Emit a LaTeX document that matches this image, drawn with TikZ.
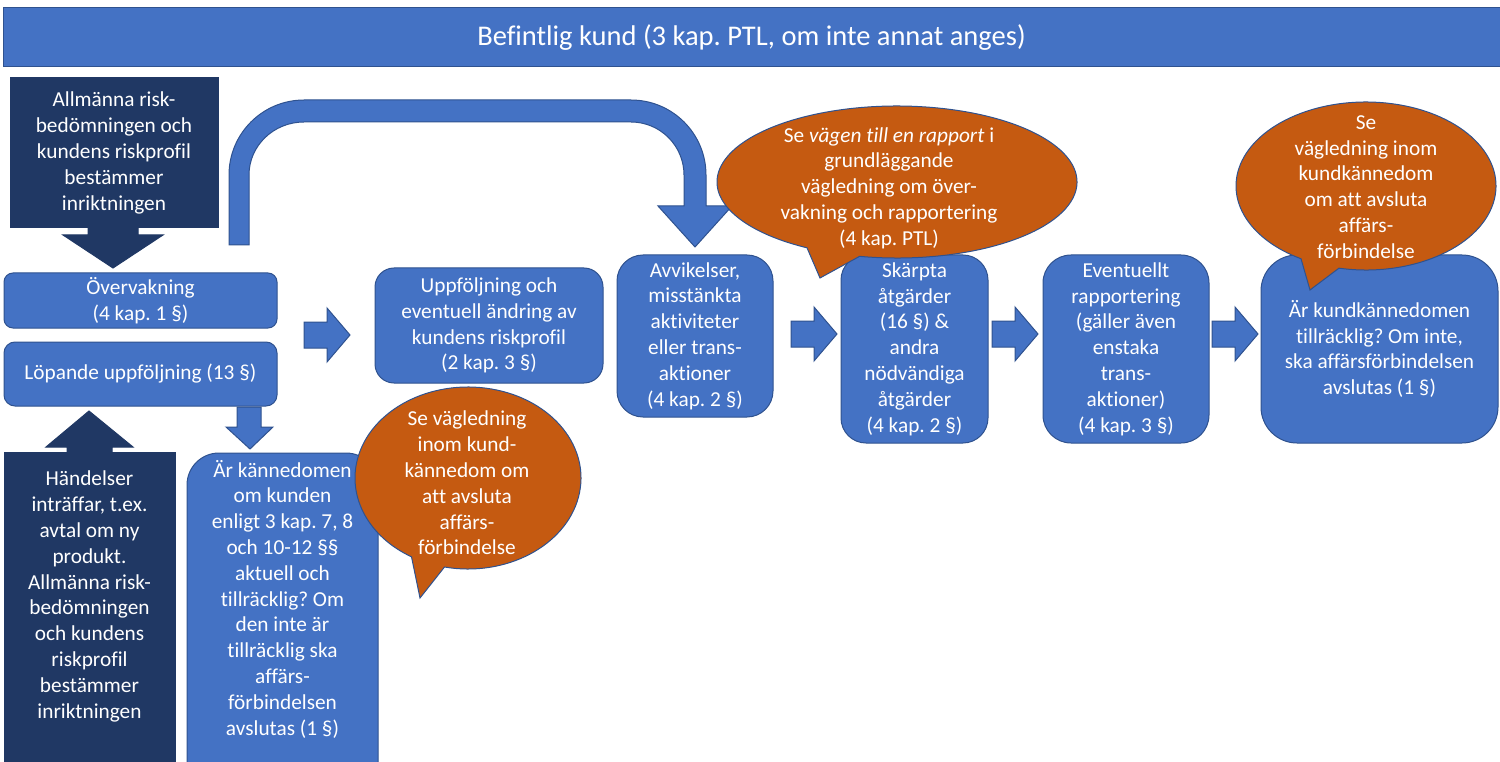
\documentclass[tikz,border=0pt]{standalone}
\usepackage{fontspec}
\setmainfont[Ligatures={NoCommon}]{Carlito}
\frenchspacing
\definecolor{blueF}{HTML}{4472C4}
\definecolor{bord}{HTML}{2F528F}
\definecolor{navy}{HTML}{203864}
\definecolor{orng}{HTML}{C55A11}
\newcommand\txtsz{\fontsize{21.3}{25.8}\selectfont}
\newcommand\titsz{\fontsize{28.5}{34}\selectfont}
\newcommand\rarr[2]{\draw[blk] ({#1},{#2-13}) -- ({#1+23},{#2-13}) -- ({#1+23},{#2-27}) -- ({#1+46},{#2}) -- ({#1+23},{#2+27}) -- ({#1+23},{#2+13}) -- ({#1},{#2+13}) -- cycle;}
\newcommand\bubble[8]{\draw[bub] ({#1+#3*cos(#5)},{#2+#4*sin(#5)}) -- (#7,#8) -- ({#1+#3*cos(#6)},{#2+#4*sin(#6)}) arc[start angle=#6, end angle={#5-360}, x radius=#3, y radius=#4] -- cycle;}
\begin{document}
\begin{tikzpicture}[x=1pt,y=-1pt,
  bx/.style={draw=bord, fill=blueF, line width=1pt, text=white, align=center, inner sep=0pt, font=\txtsz},
  dk/.style={draw=navy, fill=navy, line width=1pt, text=white, align=center, inner sep=0pt, font=\txtsz},
  tx/.style={text=white, align=center, inner sep=0pt, font=\txtsz},
  blk/.style={fill=blueF, draw=bord, line width=1pt, line join=miter},
  dkblk/.style={fill=navy, draw=navy, line width=1pt},
  bub/.style={fill=orng, draw=bord, line width=1pt}]
\useasboundingbox (0,0) rectangle (1500,762);
% title
\node[bx, font=\titsz, minimum width=1497pt, minimum height=59pt] (title) at (751.5,37.5) {Befintlig kund (3 kap. PTL, om inte annat anges)};
% top dark box and arrow
\node[dk, minimum width=208pt, minimum height=150pt] (top) at (114,153) {Allmänna risk-\\bedömningen och\\kundens riskprofil\\bestämmer\\inriktningen};
\draw[dkblk] (88,227) -- (138,227) -- (138,235) -- (163,235) -- (113,268) -- (63,235) -- (88,235) -- cycle;
% bent arrow
\draw[blk] (229,245) -- (229,175) arc[start angle=180, end angle=270, radius=75] -- (631,100) arc[start angle=270, end angle=360, radius=75] -- (706,206) -- (732,206) -- (695,247) -- (658,206) -- (684,206) -- (684,175) arc[start angle=0, end angle=-90, radius=53] -- (304,122) arc[start angle=-90, end angle=-180, x radius=55, y radius=53] -- (249,245) -- cycle;
% boxes
\node[bx, rounded corners=9pt, minimum width=273pt, minimum height=55pt] (ov) at (140.5,300.5) {Övervakning\\(4 kap. 1 §)};
\node[bx, rounded corners=11pt, minimum width=273pt, minimum height=64pt] (lop) at (140.5,374) {Löpande uppföljning (13 §)};
\node[bx, rounded corners=19pt, minimum width=228pt, minimum height=115pt] (upp) at (489,325.5) {Uppföljning och\\eventuell ändring av\\kundens riskprofil\\(2 kap. 3 §)};
\node[bx, rounded corners=26pt, minimum width=156pt, minimum height=162pt] (avv) at (695,336) {Avvikelser,\\misstänkta\\aktiviteter\\eller trans-\\aktioner\\(4 kap. 2 §)};
\node[bx, rounded corners=25pt, minimum width=147pt, minimum height=188pt] (ska) at (914.5,349) {Skärpta\\åtgärder\\(16 §) \&\\andra\\nödvändiga\\åtgärder\\(4 kap. 2 §)};
\node[bx, rounded corners=28pt, minimum width=166pt, minimum height=188pt] (eve) at (1126,349) {Eventuellt\\rapportering\\(gäller även\\enstaka\\trans-\\aktioner)\\(4 kap. 3 §)};
\node[bx, rounded corners=36pt, minimum width=237pt, minimum height=188pt] (last) at (1379.5,349) {Är kundkännedomen\\tillräcklig? Om inte,\\ska affärsförbindelsen\\avslutas (1 §)};
% right arrows
\rarr{304}{335}
\rarr{791}{334}
\rarr{992}{334}
\rarr{1212}{334}
% small down arrow
\draw[blk] (237,407) -- (261,407) -- (261,427) -- (273,427) -- (250,449) -- (226,427) -- (237,427) -- cycle;
% bottom dark box and up arrow
\node[dk, minimum width=171pt, minimum height=360pt] (hand) at (89.5,632) {};
\node[tx] (handt) at (89.5,596.5) {Händelser\\inträffar, t.ex.\\avtal om ny\\produkt.\\Allmänna risk-\\bedömningen\\och kundens\\riskprofil\\bestämmer\\inriktningen};
\draw[dkblk] (67,453) -- (67,447) -- (46,447) -- (89,411) -- (133,447) -- (112,447) -- (112,453) -- cycle;
% kannedom box
\node[bx, rounded corners=32pt, minimum width=191pt, minimum height=360pt] (kann) at (282.5,633) {};
\node[tx] (kannt) at (282.5,599) {Är kännedomen\\om kunden\\enligt 3 kap. 7, 8\\och 10-12 §§\\aktuell och\\tillräcklig? Om\\den inte är\\tillräcklig ska\\affärs-\\förbindelsen\\avslutas (1 §)};
% bubbles
\bubble{468}{478}{113}{91}{120}{102}{420}{598}
\node[tx] (b1) at (467,483) {Se vägledning\\inom kund-\\kännedom om\\att avsluta\\affärs-\\förbindelse};
\bubble{897}{182}{180}{76}{120}{102}{820}{278}
\node[tx] (b2) at (889,188) {Se \textit{vägen till en rapport} i\\grundläggande\\vägledning om över-\\vakning och rapportering\\(4 kap. PTL)};
\bubble{1366}{186}{130}{84}{120}{102}{1310}{290}
\node[tx] (b3) at (1366,187) {Se\\vägledning inom\\kundkännedom\\om att avsluta\\affärs-\\förbindelse};
\end{tikzpicture}
\end{document}
